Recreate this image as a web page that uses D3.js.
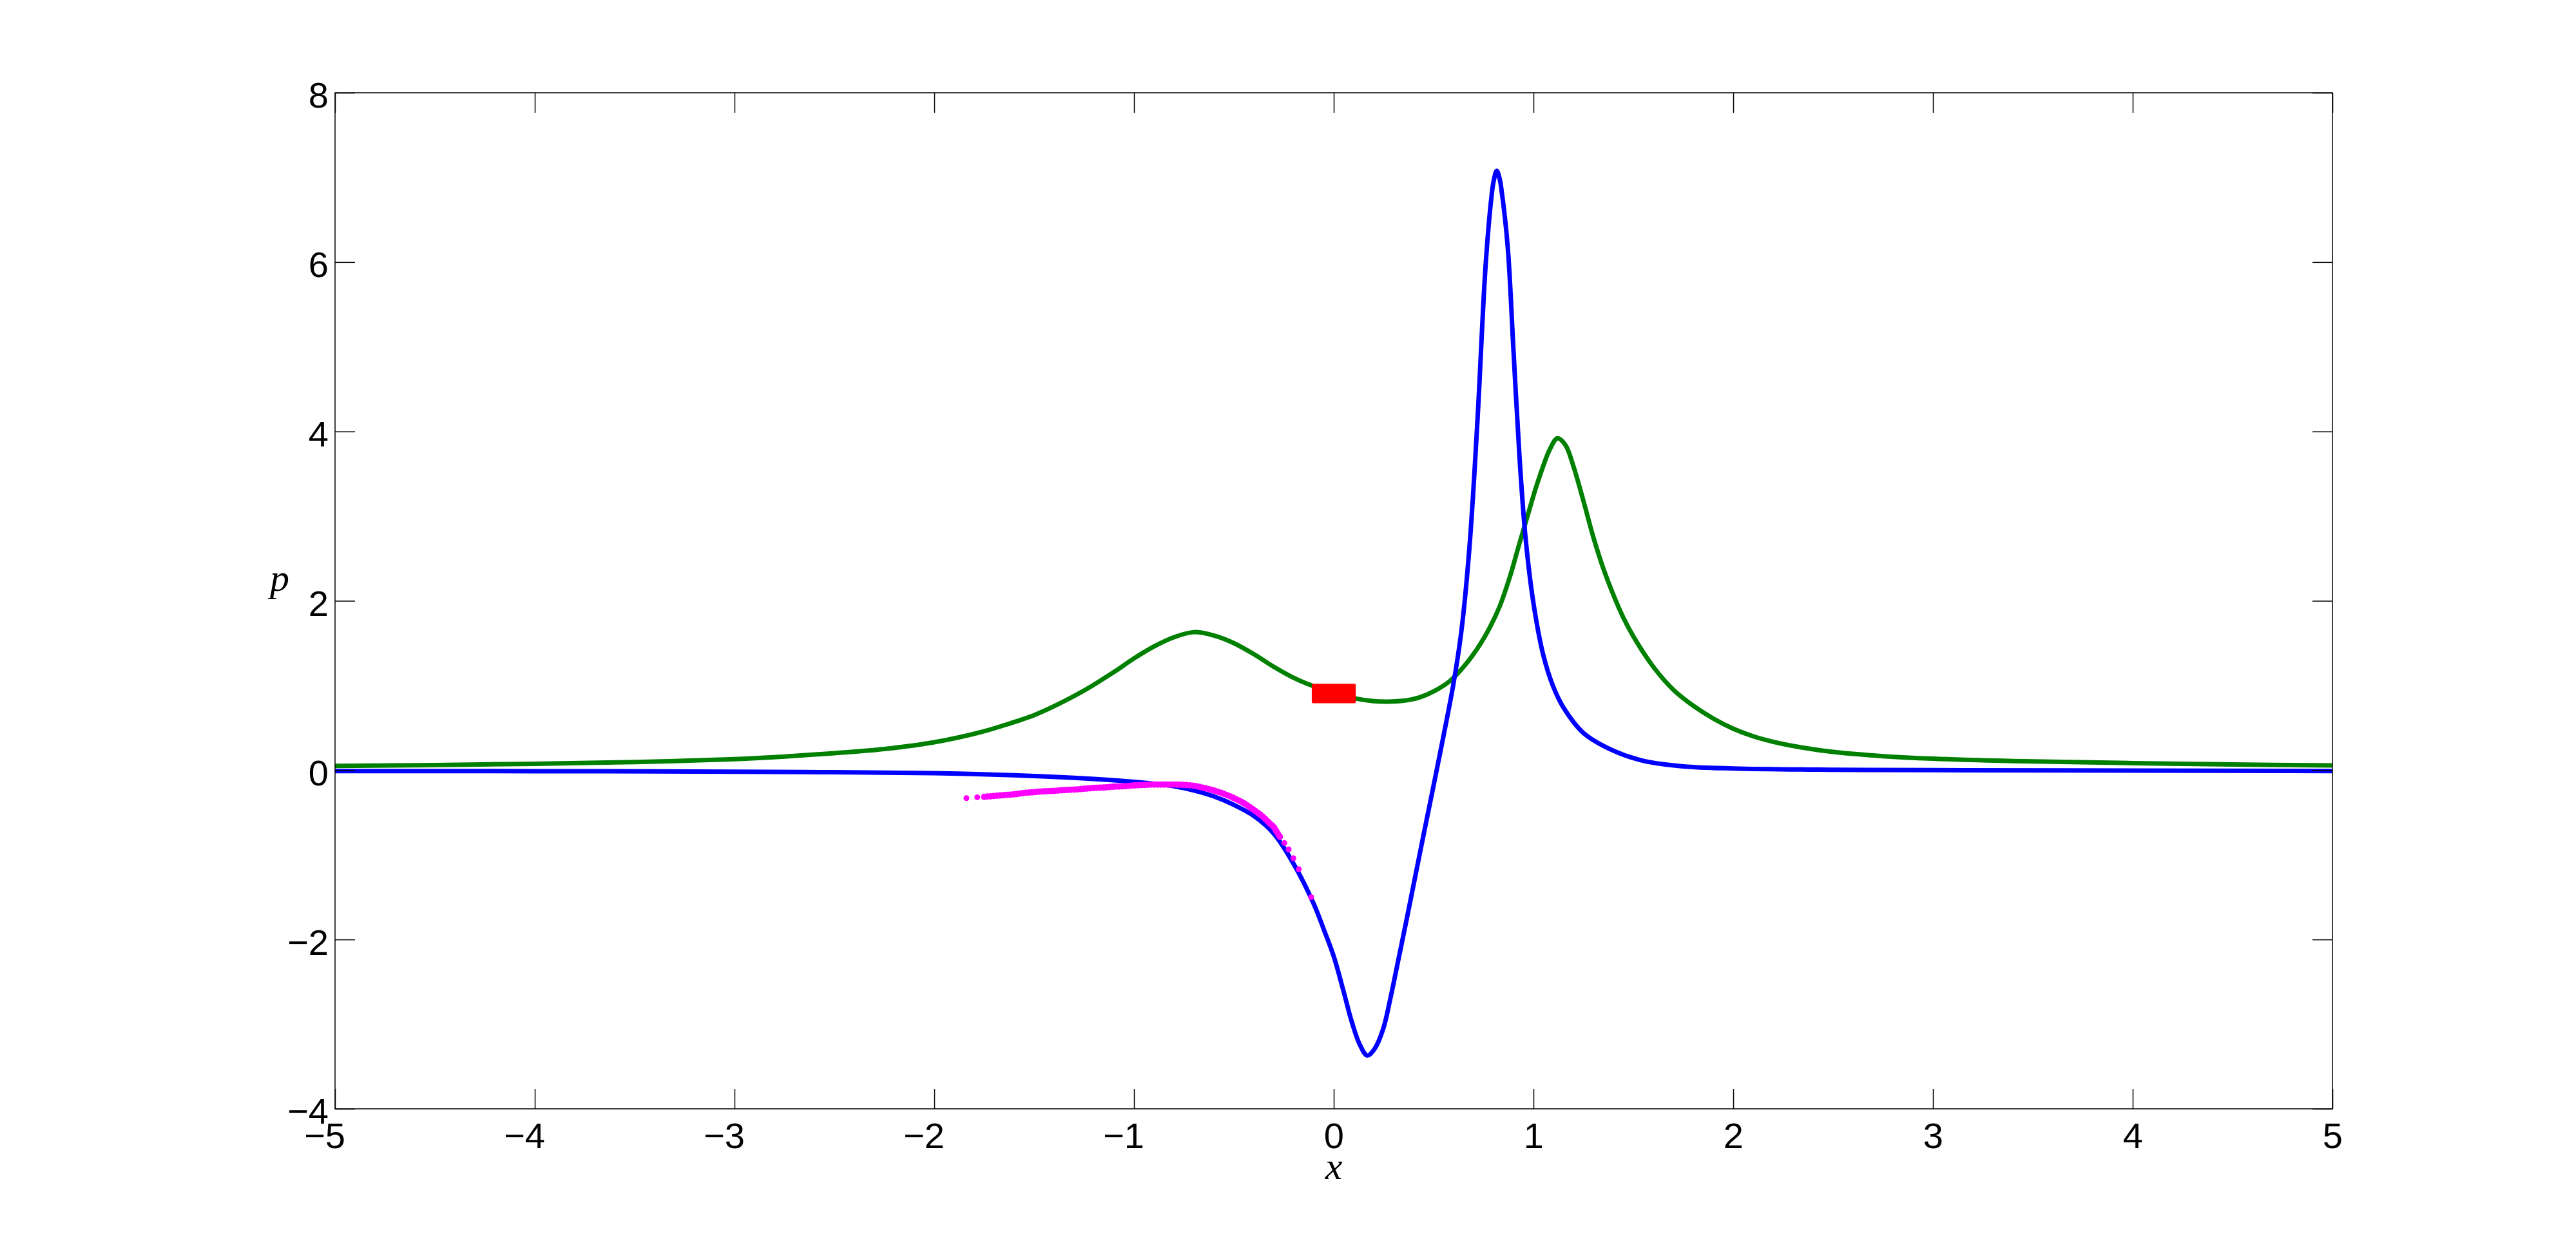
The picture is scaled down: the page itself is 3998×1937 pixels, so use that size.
<!DOCTYPE html>
<html>
<head>
<meta charset="utf-8">
<script src="https://cdn.jsdelivr.net/npm/d3@7"></script>
<style>
  html, body { margin: 0; padding: 0; background: #ffffff; }
  svg { display: block; }
</style>
</head>
<body>
<svg id="chart" width="3998" height="1937"></svg>
<script>
// ---------------- data ----------------
const xTicks = [-5, -4, -3, -2, -1, 0, 1, 2, 3, 4, 5];
const yTicks = [-4, -2, 0, 2, 4, 6, 8];

const greenX = [-5, -4.5, -4, -3.5, -3, -2.75, -2.5, -2.25, -2.0, -1.75, -1.624, -1.5, -1.409, -1.25,
  -1.1, -1.0, -0.9, -0.8, -0.7, -0.6, -0.5, -0.4, -0.3, -0.2, -0.1, 0.0, 0.1, 0.2, 0.27, 0.35,
  0.43, 0.5, 0.58, 0.65, 0.72, 0.78, 0.83, 0.88, 0.93, 0.97, 1.01, 1.05, 1.08, 1.12, 1.16, 1.2,
  1.25, 1.3, 1.35, 1.4, 1.45, 1.5, 1.6, 1.7, 1.8, 1.9, 2.0, 2.1, 2.2, 2.35, 2.5, 2.75, 3.0,
  3.5, 4.0, 4.5, 5.0];
const greenY = [0.05, 0.06, 0.075, 0.095, 0.13, 0.16, 0.20, 0.25, 0.33, 0.46, 0.55, 0.65, 0.745, 0.94,
  1.16, 1.32, 1.46, 1.57, 1.63, 1.59, 1.50, 1.37, 1.22, 1.09, 0.99, 0.91, 0.85, 0.815, 0.81, 0.82,
  0.86, 0.93, 1.05, 1.22, 1.44, 1.68, 1.93, 2.27, 2.68, 3.0, 3.32, 3.6, 3.78, 3.92, 3.84, 3.59,
  3.18, 2.75, 2.38, 2.07, 1.80, 1.58, 1.22, 0.95, 0.76, 0.61, 0.49, 0.40, 0.335, 0.265, 0.215, 0.165, 0.135,
  0.103, 0.083, 0.067, 0.055];

const blueX = [-5, -4, -3, -2.5, -2.0, -1.6, -1.3, -1.1, -0.9, -0.8, -0.7, -0.6, -0.5, -0.4, -0.3,
  -0.2, -0.1, -0.05, 0.0, 0.05, 0.09, 0.13, 0.168, 0.205, 0.247, 0.285, 0.32, 0.36, 0.4, 0.45, 0.5,
  0.55, 0.6, 0.64, 0.68, 0.72, 0.76, 0.79, 0.80, 0.816, 0.83, 0.84, 0.871, 0.90, 0.93, 0.96, 1.0,
  1.05, 1.1, 1.15, 1.25, 1.4, 1.55, 1.75, 2.0, 2.5, 3.0, 4.0, 5.0];
const blueY = [-0.01, -0.012, -0.018, -0.025, -0.035, -0.06, -0.09, -0.12, -0.16, -0.19, -0.24, -0.31,
  -0.41, -0.54, -0.75, -1.11, -1.58, -1.88, -2.2, -2.62, -2.97, -3.24, -3.37, -3.29, -3.06, -2.68,
  -2.28, -1.82, -1.35, -0.76, -0.18, 0.41, 1.03, 1.66, 2.65, 4.15, 5.95, 6.78, 6.95, 7.08, 6.99, 6.85,
  6.18, 4.95, 3.7, 2.75, 1.97, 1.35, 0.98, 0.74, 0.44, 0.23, 0.11, 0.045, 0.02, 0.005, 0.0, -0.005, -0.01];

const magentaX = [-1.839, -1.785, -1.75, -1.70, -1.65, -1.60, -1.55, -1.50, -1.45, -1.40, -1.35, -1.30,
  -1.25, -1.20, -1.15, -1.10, -1.05, -1.00, -0.95, -0.90, -0.85, -0.80, -0.75, -0.70, -0.65,
  -0.60, -0.55, -0.50, -0.45, -0.40, -0.376, -0.35, -0.32, -0.301, -0.285, -0.269, -0.247,
  -0.226, -0.202, -0.175, -0.113];
const magentaY = [-0.33, -0.32, -0.315, -0.305, -0.295, -0.285, -0.27, -0.26, -0.25, -0.245, -0.235, -0.23,
  -0.22, -0.21, -0.205, -0.195, -0.19, -0.18, -0.175, -0.17, -0.17, -0.17, -0.175, -0.185, -0.21,
  -0.24, -0.28, -0.33, -0.39, -0.47, -0.51, -0.56, -0.63, -0.67, -0.73, -0.79, -0.86,
  -0.935, -1.04, -1.17, -1.50];

const redBoxX = [-0.11, 0.11];
const redBoxY = [0.79, 1.02];

// ---------------- layout ----------------
const svg = d3.select("#chart");
const pLeft = 520, pRight = 3620, pTop = 144, pBottom = 1721;
const tickLen = 31;
const fontSans = "'Liberation Sans', Arial, Helvetica, sans-serif";
const fontSerif = "'Liberation Serif', 'Times New Roman', serif";

const x = d3.scaleLinear().domain([-5, 5]).range([pLeft, pRight]);
const y = d3.scaleLinear().domain([-4, 8]).range([pBottom, pTop]);

svg.append("rect").attr("width", 3998).attr("height", 1937).attr("fill", "#ffffff");

const plot = svg.append("g");
plot.append("clipPath").attr("id", "clip")
  .append("rect").attr("x", pLeft).attr("y", pTop).attr("width", pRight - pLeft).attr("height", pBottom - pTop);

const lineGen = d3.line().x(d => x(d[0])).y(d => y(d[1])).curve(d3.curveCatmullRom.alpha(0.5));
const greenData = greenX.map((v, i) => [v, greenY[i]]);
const blueData = blueX.map((v, i) => [v, blueY[i]]);
const magentaData = magentaX.map((v, i) => [v, magentaY[i]]);

const curves = plot.append("g").attr("clip-path", "url(#clip)");
curves.append("path").datum(greenData).attr("d", lineGen)
  .attr("fill", "none").attr("stroke", "#008000").attr("stroke-width", 7).attr("stroke-linejoin", "round");
curves.append("path").datum(blueData).attr("d", lineGen)
  .attr("fill", "none").attr("stroke", "#0000ff").attr("stroke-width", 7).attr("stroke-linejoin", "round");
// magenta dotted band (dense dots along the read points)
curves.append("path").datum(magentaData.slice(2, magentaData.length - 5)).attr("d", lineGen)
  .attr("fill", "none").attr("stroke", "#ff00ff").attr("stroke-width", 10)
  .attr("stroke-dasharray", "0,5").attr("stroke-linecap", "round");
curves.selectAll("circle.mag").data(magentaData).enter().append("circle")
  .attr("class", "mag")
  .attr("cx", d => x(d[0])).attr("cy", d => y(d[1])).attr("r", 4.5).attr("fill", "#ff00ff");
curves.append("rect")
  .attr("x", x(redBoxX[0])).attr("y", y(redBoxY[1]))
  .attr("width", x(redBoxX[1]) - x(redBoxX[0])).attr("height", y(redBoxY[0]) - y(redBoxY[1]))
  .attr("rx", 2).attr("fill", "#ff0000");

// ---------------- axes ----------------
const fmt = d => d < 0 ? "\u2212" + Math.abs(d) : String(d);

const xAxisB = svg.append("g").attr("transform", `translate(0,${pBottom})`)
  .call(d3.axisBottom(x).tickValues(xTicks).tickSize(-tickLen).tickSizeOuter(0).tickPadding(21).tickFormat(fmt));
xAxisB.selectAll("text")
  .attr("font-family", fontSans).attr("font-size", 56).attr("fill", "#000")
  .attr("text-anchor", "end").attr("x", 15.5);

const yAxisL = svg.append("g").attr("transform", `translate(${pLeft},0)`)
  .call(d3.axisLeft(y).tickValues(yTicks).tickSize(-tickLen).tickSizeOuter(0).tickPadding(10).tickFormat(fmt));
yAxisL.selectAll("text")
  .attr("font-family", fontSans).attr("font-size", 56).attr("fill", "#000").attr("dy", "0.41em");

svg.append("g").attr("transform", `translate(0,${pTop})`)
  .call(d3.axisTop(x).tickValues(xTicks).tickSize(-tickLen).tickSizeOuter(0).tickFormat(""));
svg.append("g").attr("transform", `translate(${pRight},0)`)
  .call(d3.axisRight(y).tickValues(yTicks).tickSize(-tickLen).tickSizeOuter(0).tickFormat(""));

svg.selectAll(".domain").remove();
svg.selectAll(".tick line").attr("stroke", "#000").attr("stroke-width", 1.5);

svg.append("rect").attr("x", pLeft).attr("y", pTop).attr("width", pRight - pLeft).attr("height", pBottom - pTop)
  .attr("fill", "none").attr("stroke", "#000").attr("stroke-width", 1.5);

// axis labels
svg.append("text").attr("x", x(0)).attr("y", 1830).attr("text-anchor", "middle")
  .attr("font-family", fontSerif).attr("font-style", "italic").attr("font-size", 60).text("x");
svg.append("text").attr("x", 434).attr("y", 917).attr("text-anchor", "middle")
  .attr("font-family", fontSerif).attr("font-style", "italic").attr("font-size", 60).text("p");
</script>
</body>
</html>
